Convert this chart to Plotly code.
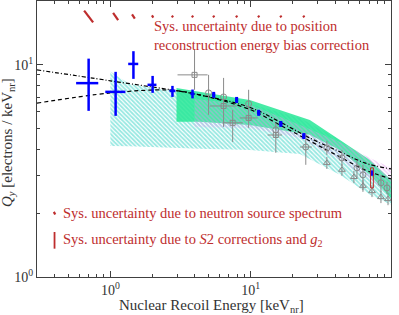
import numpy as np
import plotly.graph_objects as go

# ---------------- data ----------------
# LUX low-energy points (blue crosses)
lux_E = [0.70, 1.09, 1.46, 2.00, 2.77, 3.85]
lux_E_lo = [0.57, 0.92, 1.34, 1.84, 2.64, 3.72]
lux_E_hi = [0.82, 1.28, 1.58, 2.13, 2.91, 3.98]
lux_Q = [8.2, 7.46, 10.1, 8.05, 7.54, 7.3]
lux_Q_lo = [6.07, 5.75, 8.59, 7.38, 7.06, 6.95]
lux_Q_hi = [10.7, 9.27, 11.6, 8.87, 7.96, 7.65]

# LUX higher-energy points (short blue bars)
hi_E = [5.45, 7.94, 11.4, 16.4, 23.9, 73.2]
hi_Q = [7.22, 6.83, 5.94, 5.27, 4.62, 3.09]
hi_Q_lo = [6.99, 6.61, 5.75, 5.10, 4.47, 3.00]
hi_Q_hi = [7.46, 7.06, 6.14, 5.44, 4.77, 3.18]

# systematic box (S2 corrections and g2) on last point
box_E = 73.2
box_Q_lo = 2.63
box_Q_hi = 3.27

# other measurements (grey)
circ_E = [5.01, 6.41, 9.67, 15.1, 24.7, 34.9, 44.7, 57.2, 63.1, 84.8, 93.6]
circ_Q = [7.38, 7.06, 6.55, 4.94, 4.10, 4.06, 3.64, 3.27, 3.03, 2.78, 2.63]
circ_Q_lo = [5.81, 5.10, 5.05, 3.85, 3.38, 3.76, 3.34, 2.93, 2.57, 2.52, 2.46]
circ_Q_hi = [8.97, 8.68, 7.63, 5.33, 4.78, 4.38, 3.97, 3.56, 3.38, 3.03, 2.81]
circ_E_lo = [5.01, 6.41, 9.67, 15.1, 22.4, 34.9, 44.7, 57.2, 63.1, 84.8, 93.6]
circ_E_hi = [5.01, 6.41, 9.67, 15.1, 27.3, 34.9, 44.7, 57.2, 63.1, 84.8, 93.6]

sq_E = [3.98, 6.41, 7.44, 9.67, 15.1]
sq_E_lo = [3.01, 5.10, 6.31, 8.35, 13.2]
sq_E_hi = [4.93, 7.94, 8.77, 11.2, 16.7]
sq_Q = [8.97, 6.40, 5.33, 5.62, 4.67]
sq_Q_lo = [7.63, 6.20, 4.33, 5.45, 4.52]
sq_Q_hi = [11.8, 6.60, 6.13, 5.80, 4.82]

tri_E = [34.9, 44.7, 54.4, 63.1, 73.2, 84.8, 95.2]
tri_Q = [3.45, 3.20, 2.96, 2.69, 2.54, 2.38, 2.33]
tri_Q_lo = [3.23, 3.00, 2.77, 2.52, 2.38, 2.23, 2.18]
tri_Q_hi = [3.68, 3.41, 3.16, 2.87, 2.71, 2.54, 2.49]

# model curves
dd_E = [0.3, 1.0, 4.32, 10.0, 16.1, 26.4, 43.3, 65.0, 100.0]
dd_Q = [9.47, 8.41, 7.22, 6.28, 5.39, 4.52, 3.89, 3.45, 3.23]
ds_E = [0.3, 1.0, 2.64, 4.32, 10.0, 16.1, 26.4, 43.3, 65.0, 100.0]
ds_Q = [6.6, 7.37, 7.6, 7.22, 6.14, 5.21, 4.38, 3.68, 3.20, 2.90]

# bands
cyan_E = [1.0, 1.37, 2.24, 4.32, 9.84, 22.4, 43.2, 70.8, 100.0]
cyan_hi = [9.3, 8.13, 7.7, 7.37, 6.55, 5.62, 4.43, 3.38, 2.72]
cyan_lo = [4.15, 4.13, 4.10, 4.02, 3.97, 3.80, 3.03, 2.44, 2.19]

green_E = [2.96, 4.32, 9.84, 26.4, 43.2, 70.8, 100.0]
green_hi = [7.78, 7.46, 6.83, 5.50, 4.43, 3.56, 2.87]
green_lo = [5.39, 5.39, 5.21, 4.68, 3.97, 3.03, 2.36]

pink_E = [3.98, 9.84, 22.4, 43.2, 70.8, 100.0]
pink_hi = [6.9, 6.5, 5.2, 4.33, 3.64, 3.27]
pink_lo = [5.10, 5.04, 4.52, 3.56, 2.87, 2.44]

# position-reconstruction energy bias marks (top row)
bias_E = [0.70, 1.09, 1.46, 2.00, 2.77, 3.85, 5.45, 7.94, 11.4, 16.4, 23.9]
bias_dlogE = [0.032, 0.018, 0.010, 0.005, 0.004, 0.004, 0.004, 0.004, 0.004, 0.004, 0.004]
bias_dlogQ = [0.028, 0.017, 0.010, 0.005, 0.004, 0.004, 0.004, 0.004, 0.004, 0.004, 0.004]
bias_row_Q = 16.9

legend_E = 0.40
legend_Q1 = 2.0
legend_Q2_lo = 1.36
legend_Q2_hi = 1.63

RED = "#be2d2d"
SERIF = "Liberation Serif"

fig = go.Figure()


def band(xs, hi, lo, **kw):
    fig.add_trace(go.Scatter(x=list(xs) + list(xs)[::-1], y=list(hi) + list(lo)[::-1],
                             mode="lines", fill="toself", line=dict(width=0),
                             hoverinfo="skip", showlegend=False, **kw))


band(cyan_E, cyan_hi, cyan_lo, fillcolor="rgba(0,0,0,0)",
     fillpattern=dict(shape="\\", fgcolor="#2fd2c4", bgcolor="rgba(255,255,255,0)",
                      size=3, solidity=0.6))
band(green_E, green_hi, green_lo, fillcolor="rgba(40,232,150,0.85)")
band(pink_E, pink_hi, pink_lo, fillcolor="rgba(0,0,0,0)",
     fillpattern=dict(shape="\\", fgcolor="#e3a0f0", bgcolor="rgba(255,255,255,0)",
                      size=3, solidity=0.5))

fig.add_trace(go.Scatter(x=dd_E, y=dd_Q, mode="lines",
                         line=dict(color="black", width=1.2, dash="4px,2px,1px,2px", shape="spline"),
                         showlegend=False))
fig.add_trace(go.Scatter(x=ds_E, y=ds_Q, mode="lines",
                         line=dict(color="black", width=1.2, dash="4px,3px", shape="spline"),
                         showlegend=False))

GREY = "#8a8a8a"


def err(v, lo, hi):
    return dict(type="data", symmetric=False,
                array=[h - c for c, h in zip(v, hi)],
                arrayminus=[c - l for c, l in zip(v, lo)])


fig.add_trace(go.Scatter(x=circ_E, y=circ_Q, mode="markers",
                         marker=dict(symbol="circle-open", size=6, color=GREY, line=dict(width=1)),
                         error_y=dict(**err(circ_Q, circ_Q_lo, circ_Q_hi), color=GREY, thickness=1, width=0),
                         error_x=dict(**err(circ_E, circ_E_lo, circ_E_hi), color=GREY, thickness=1, width=0),
                         showlegend=False))
fig.add_trace(go.Scatter(x=sq_E, y=sq_Q, mode="markers",
                         marker=dict(symbol="square-open", size=5, color=GREY, line=dict(width=1)),
                         error_y=dict(**err(sq_Q, sq_Q_lo, sq_Q_hi), color=GREY, thickness=1, width=0),
                         error_x=dict(**err(sq_E, sq_E_lo, sq_E_hi), color=GREY, thickness=1, width=0),
                         showlegend=False))
fig.add_trace(go.Scatter(x=tri_E, y=tri_Q, mode="markers",
                         marker=dict(symbol="triangle-up-open", size=6, color=GREY, line=dict(width=1)),
                         error_y=dict(**err(tri_Q, tri_Q_lo, tri_Q_hi), color=GREY, thickness=1, width=0),
                         showlegend=False))

# LUX
fig.add_trace(go.Scatter(x=lux_E, y=lux_Q, mode="markers", marker=dict(size=1, color="blue"),
                         error_y=dict(**err(lux_Q, lux_Q_lo, lux_Q_hi), color="blue", thickness=2.5, width=0),
                         error_x=dict(**err(lux_E, lux_E_lo, lux_E_hi), color="blue", thickness=2.5, width=0),
                         showlegend=False))
fig.add_trace(go.Scatter(x=hi_E, y=hi_Q, mode="markers", marker=dict(size=3, symbol="square", color="blue"),
                         error_y=dict(**err(hi_Q, hi_Q_lo, hi_Q_hi), color="blue", thickness=3, width=0),
                         showlegend=False))

# systematic box
bw = 10 ** 0.01
fig.add_trace(go.Scatter(x=[box_E / bw, box_E * bw, box_E * bw, box_E / bw, box_E / bw],
                         y=[box_Q_lo, box_Q_lo, box_Q_hi, box_Q_hi, box_Q_lo],
                         mode="lines", line=dict(color=RED, width=1), showlegend=False))

# bias marks
bx, by = [], []
for e, de, dq in zip(bias_E, bias_dlogE, bias_dlogQ):
    bx += [e * 10 ** (-de), e * 10 ** de, None]
    by += [bias_row_Q * 10 ** dq, bias_row_Q * 10 ** (-dq), None]
fig.add_trace(go.Scatter(x=bx, y=by, mode="lines", line=dict(color=RED, width=2.2), showlegend=False))

# legend marks
fig.add_trace(go.Scatter(x=[legend_E / 10 ** 0.005, legend_E * 10 ** 0.005],
                         y=[legend_Q1 * 10 ** 0.006, legend_Q1 / 10 ** 0.006],
                         mode="lines", line=dict(color=RED, width=2.2), showlegend=False))
fig.add_trace(go.Scatter(x=[legend_E, legend_E], y=[legend_Q2_lo, legend_Q2_hi],
                         mode="lines", line=dict(color=RED, width=1.8), showlegend=False))

# ---------------- layout ----------------
L, R, T, B = 37, 8, 1, 38
W, H = 399, 315
pw, ph = W - L - R, H - T - B


def px(xp):
    return (xp - L) / pw


def py(yp):
    return (H - B - yp) / ph


xminor = [v * d for d in (1, 10, 100) for v in (0.2, 0.3, 0.4, 0.5, 0.6, 0.7, 0.8, 0.9)]
yminor = [v * d for d in (1, 10) for v in (2, 3, 4, 5, 6, 7, 8, 9)]

axcommon = dict(showgrid=False, zeroline=False, showline=True, linecolor="#404040", linewidth=1,
                mirror="allticks", ticks="inside", ticklen=6, tickcolor="#404040",
                tickfont=dict(family=SERIF, size=14, color="#333"))

fig.update_xaxes(type="log", range=[np.log10(0.3), 2],
                 tickvals=[1, 10, 100], ticktext=["10<sup>0</sup>", "10<sup>1</sup>", "10<sup>2</sup>"],
                 minor=dict(tickvals=xminor, ticks="inside", ticklen=3, tickcolor="#404040"),
                 **axcommon)
fig.update_yaxes(type="log", range=[0, np.log10(20)],
                 tickvals=[1, 10], ticktext=["10<sup>0</sup>", "10<sup>1</sup>"],
                 minor=dict(tickvals=yminor, ticks="inside", ticklen=3, tickcolor="#404040"),
                 **axcommon)

ann = [
    dict(x=px(152), y=py(35.5), xanchor="left", yanchor="middle", align="left",
         text="Sys. uncertainty due to position<br>reconstruction energy bias correction",
         font=dict(family=SERIF, size=14.5, color=RED)),
    dict(x=px(61), y=py(213), xanchor="left", yanchor="middle",
         text="Sys. uncertainty due to neutron source spectrum",
         font=dict(family=SERIF, size=14.5, color=RED)),
    dict(x=px(61), y=py(240), xanchor="left", yanchor="middle",
         text="Sys. uncertainty due to <i>S</i>2 corrections and <i>g</i><sub>2</sub>",
         font=dict(family=SERIF, size=14.5, color=RED)),
    dict(x=px(211), y=py(306), xanchor="center", yanchor="middle",
         text="Nuclear Recoil Energy [keV<sub>nr</sub>]",
         font=dict(family=SERIF, size=15, color="#333")),
    dict(x=px(8), y=py(143), xanchor="center", yanchor="middle", textangle=-90,
         text="<i>Q<sub>y</sub></i> [electrons / keV<sub>nr</sub>]",
         font=dict(family=SERIF, size=15, color="#333")),
]
for a in ann:
    a.update(xref="paper", yref="paper", showarrow=False)

fig.update_layout(width=W, height=H, margin=dict(l=L, r=R, t=T, b=B),
                  paper_bgcolor="white", plot_bgcolor="white", annotations=ann,
                  showlegend=False)

fig.write_html("out.html", config={"displayModeBar": False},
               post_script="document.body.style.margin='0px';")
